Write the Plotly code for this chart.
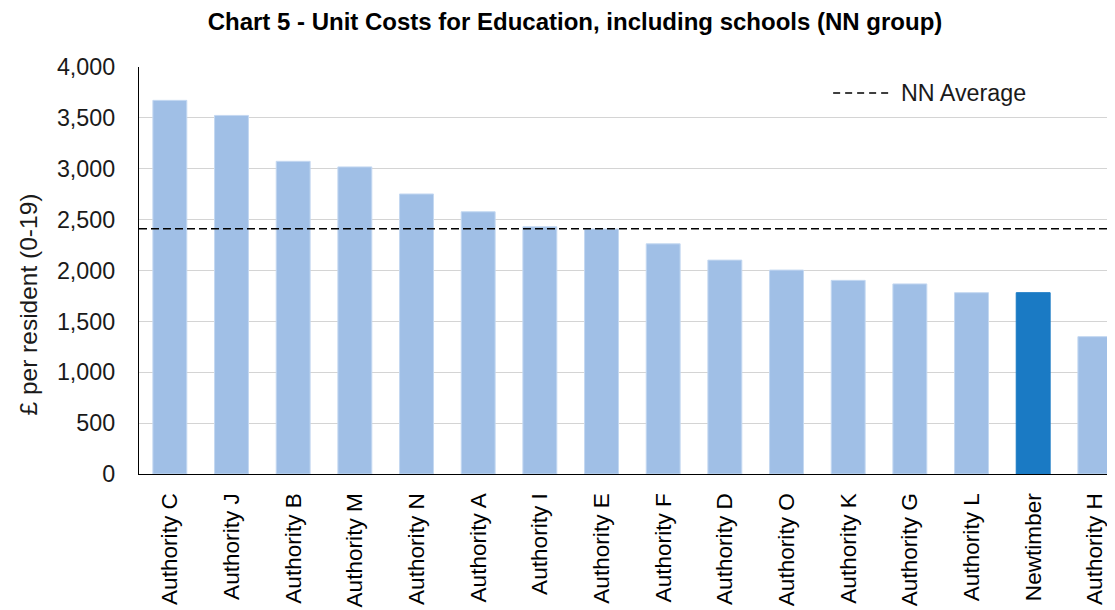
import plotly.graph_objects as go

categories = ["Authority C", "Authority J", "Authority B", "Authority M", "Authority N",
              "Authority A", "Authority I", "Authority E", "Authority F", "Authority D",
              "Authority O", "Authority K", "Authority G", "Authority L", "Newtimber",
              "Authority H"]
values = [3672, 3524, 3073, 3018, 2752, 2577, 2430, 2408, 2262, 2102,
          2004, 1903, 1868, 1782, 1782, 1350]
nn_average = 2410
highlight = "Newtimber"
y_ticks = [0, 500, 1000, 1500, 2000, 2500, 3000, 3500, 4000]
y_ticktext = ["0", "500", "1,000", "1,500", "2,000", "2,500", "3,000", "3,500", "4,000"]

LIGHT = "#a0bfe6"
DARK = "#1a7ac4"
colors = [DARK if c == highlight else LIGHT for c in categories]
edges = [DARK if c == highlight else "#c4d8f1" for c in categories]

# page body has an 8px margin, so the figure is offset by 8px in the window
OFF = 8
W, H = 1115 - OFF, 610 - OFF
L, R, T, B = 138.5 - OFF, 0, 67 - OFF, 136
pw = W - L - R
ph = H - T - B


def px_x(xw):
    return (xw - OFF - L) / pw


def px_y(yw):
    return (H - B - (yw - OFF)) / ph


FONT = "Liberation Sans, Arial"

fig = go.Figure()
fig.add_trace(go.Bar(
    x=categories, y=values,
    marker=dict(color=colors, line=dict(color=edges, width=1)),
    width=0.55, showlegend=False, hoverinfo="x+y",
))

fig.add_shape(type="line", xref="paper", yref="y", x0=0, x1=1,
              y0=nn_average, y1=nn_average,
              line=dict(color="#000000", width=1.6, dash="8px,4px"), layer="above")

# legend (manual)
lx0, lx1, ly = 833, 890, 93
fig.add_shape(type="line", xref="paper", yref="paper",
              x0=px_x(lx0), x1=px_x(lx1), y0=px_y(ly), y1=px_y(ly),
              line=dict(color="#000000", width=1.6, dash="7px,5px"))
fig.add_annotation(text="NN Average", xref="paper", yref="paper",
                   x=px_x(899), y=px_y(ly),
                   xanchor="left", yanchor="middle", showarrow=False,
                   font=dict(size=23.3, color="#1a1a1a", family=FONT))

# y-axis title
fig.add_annotation(text="£ per resident (0-19)", xref="paper", yref="paper",
                   x=px_x(27), y=px_y(305), textangle=-90,
                   xanchor="center", yanchor="middle", showarrow=False,
                   font=dict(size=24.5, color="#1a1a1a", family=FONT))

fig.update_layout(
    width=W, height=H,
    margin=dict(l=L, r=R, t=T, b=B, autoexpand=False),
    paper_bgcolor="white", plot_bgcolor="white",
    font=dict(family=FONT, size=23.3, color="#1a1a1a"),
    title=dict(text="<b>Chart 5 - Unit Costs for Education, including schools (NN group)</b>",
               x=(575 - OFF) / W, xref="container", xanchor="center",
               y=1 - (22 - OFF) / H, yref="container", yanchor="middle",
               font=dict(size=24, color="#000000", family=FONT)),
    bargap=0.45,
    showlegend=False,
)
fig.update_xaxes(range=[-0.5, pw / 61.7 - 0.5], tickangle=-90,
                 showline=True, linecolor="#000000", linewidth=1.3,
                 ticks="", ticklabelstandoff=9, showgrid=False,
                 tickfont=dict(size=22.6, color="#000000"))
fig.update_yaxes(range=[0, 4000], tickvals=y_ticks, ticktext=y_ticktext,
                 showline=True, linecolor="#000000", linewidth=1.3,
                 showgrid=True, gridcolor="#d4d4d4", gridwidth=1.3,
                 ticks="", ticklabelstandoff=18, zeroline=False,
                 tickfont=dict(size=23.3, color="#1a1a1a"))

fig.write_html("out.html")
